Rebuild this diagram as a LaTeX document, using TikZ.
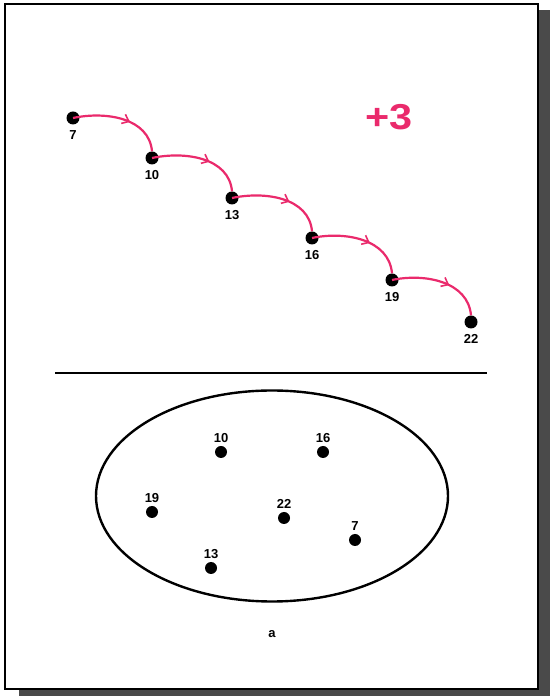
\documentclass[tikz,border=0pt]{standalone}
\usepackage{fontspec}
\setmainfont{Liberation Sans}
\usepackage{xcolor}
\usetikzlibrary{arrows.meta,decorations.markings,shapes.geometric}
\definecolor{hoppink}{RGB}{234,42,108}
\definecolor{shadowgray}{RGB}{74,74,74}

\begin{document}
\begin{tikzpicture}[x=1pt,y=1pt,
  dot/.style={circle, fill=black, inner sep=0pt, minimum size=13pt},
  num/.style={font=\fontsize{13}{14}\selectfont\bfseries, inner sep=1pt},
  hop/.style={hoppink, line width=2.2pt,
    postaction={decorate, decoration={markings,
      mark=at position 0.6 with {\arrow[hoppink, line width=1.6pt]{Straight Barb[length=6pt, width=10pt]}}}}}
]
\fill[shadowgray] (19,0) rectangle (550,686);
\draw[line width=1.6pt, fill=white] (5,7) rectangle (538,692);
\useasboundingbox (0,0) rectangle (550,696);

\node[dot, label={[num, label distance=5pt]below:7}] (s7) at (73,578) {};
\node[dot, label={[num, label distance=5pt]below:10}] (s10) at (152,538) {};
\node[dot, label={[num, label distance=5pt]below:13}] (s13) at (232,498) {};
\node[dot, label={[num, label distance=5pt]below:16}] (s16) at (312,458) {};
\node[dot, label={[num, label distance=5pt]below:19}] (s19) at (392,416) {};
\node[dot, label={[num, label distance=5pt]below:22}] (s22) at (471,374) {};
\node[hoppink, font=\fontsize{36}{36}\selectfont\bfseries, xscale=1.15] (step) at (389,579) {+3};

\draw[hop] (s7.center) to[out=12, in=95] (s10.north);
\draw[hop] (s10.center) to[out=12, in=95] (s13.north);
\draw[hop] (s13.center) to[out=12, in=95] (s16.north);
\draw[hop] (s16.center) to[out=12, in=95] (s19.north);
\draw[hop] (s19.center) to[out=12, in=95] (s22.north);

\coordinate (rulel) at (55,323);
\coordinate (ruler) at (487,323);
\draw[line width=1.4pt] (rulel) -- (ruler);

\node[draw, ellipse, line width=2.4pt, minimum width=352pt, minimum height=211pt] (set) at (272,200) {};
\node[dot, minimum size=12pt, label={[num, label distance=2pt]above:10}] (e10) at (221,244) {};
\node[dot, minimum size=12pt, label={[num, label distance=2pt]above:16}] (e16) at (323,244) {};
\node[dot, minimum size=12pt, label={[num, label distance=2pt]above:19}] (e19) at (152,184) {};
\node[dot, minimum size=12pt, label={[num, label distance=2pt]above:22}] (e22) at (284,178) {};
\node[dot, minimum size=12pt, label={[num, label distance=2pt]above:7}] (e7) at (355,156) {};
\node[dot, minimum size=12pt, label={[num, label distance=2pt]above:13}] (e13) at (211,128) {};
\node[num] (name) at (272,62) {a};
\end{tikzpicture}
\end{document}
